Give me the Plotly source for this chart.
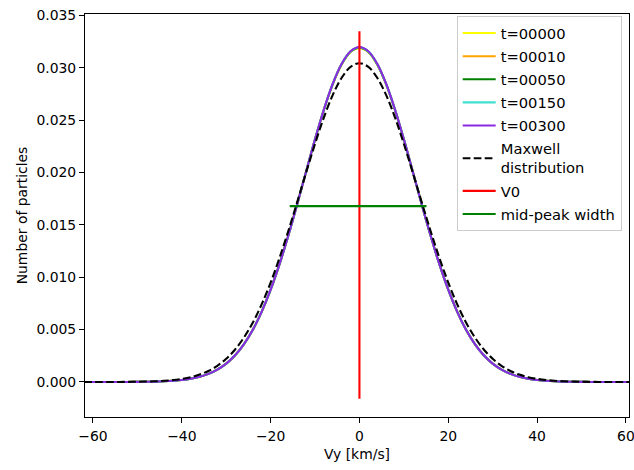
import plotly.graph_objects as go

# Velocity grid [km/s]
vy = [-62, -60, -58, -56, -54, -52, -50, -48, -46, -44, -42, -40, -38, -36, -34, -32,
      -30, -28, -26, -24, -22, -20, -18, -16, -14, -12, -10, -8, -6, -4, -2, 0,
      2, 4, 6, 8, 10, 12, 14, 16, 18, 20, 22, 24, 26, 28, 30, 32,
      34, 36, 38, 40, 42, 44, 46, 48, 50, 52, 54, 56, 58, 60, 62]

t00000 = [0, 0, 0, 0, 0, 0, 0.00001, 0.00002, 0.00003, 0.00006, 0.00011, 0.00018, 0.00030, 0.00049, 0.00077, 0.00118,
          0.00175, 0.00255, 0.00362, 0.00499, 0.00672, 0.00881, 0.01125, 0.01401, 0.01700, 0.02010, 0.02316, 0.02600, 0.02845, 0.03033, 0.03152, 0.03188,
          0.03150, 0.03030, 0.02843, 0.02600, 0.02316, 0.02010, 0.01700, 0.01401, 0.01125, 0.00881, 0.00672, 0.00499, 0.00362, 0.00255, 0.00175, 0.00118,
          0.00077, 0.00049, 0.00030, 0.00018, 0.00011, 0.00006, 0.00003, 0.00002, 0.00001, 0, 0, 0, 0, 0, 0]
t00010 = [0, 0, 0, 0, 0, 0, 0.00001, 0.00002, 0.00003, 0.00006, 0.00011, 0.00018, 0.00030, 0.00049, 0.00077, 0.00118,
          0.00175, 0.00255, 0.00362, 0.00499, 0.00672, 0.00881, 0.01125, 0.01401, 0.01700, 0.02011, 0.02317, 0.02602, 0.02847, 0.03036, 0.03155, 0.03192,
          0.03154, 0.03034, 0.02846, 0.02601, 0.02317, 0.02011, 0.01700, 0.01401, 0.01125, 0.00881, 0.00672, 0.00499, 0.00362, 0.00255, 0.00175, 0.00118,
          0.00077, 0.00049, 0.00030, 0.00018, 0.00011, 0.00006, 0.00003, 0.00002, 0.00001, 0, 0, 0, 0, 0, 0]
t00050 = [0, 0, 0, 0, 0, 0, 0.00001, 0.00002, 0.00003, 0.00006, 0.00011, 0.00018, 0.00030, 0.00049, 0.00077, 0.00118,
          0.00175, 0.00255, 0.00362, 0.00499, 0.00672, 0.00881, 0.01125, 0.01401, 0.01700, 0.02011, 0.02317, 0.02602, 0.02848, 0.03037, 0.03156, 0.03194,
          0.03156, 0.03036, 0.02847, 0.02602, 0.02317, 0.02011, 0.01700, 0.01401, 0.01125, 0.00881, 0.00672, 0.00499, 0.00362, 0.00255, 0.00175, 0.00118,
          0.00077, 0.00049, 0.00030, 0.00018, 0.00011, 0.00006, 0.00003, 0.00002, 0.00001, 0, 0, 0, 0, 0, 0]
t00150 = [0, 0, 0, 0, 0, 0, 0.00001, 0.00002, 0.00003, 0.00006, 0.00011, 0.00018, 0.00030, 0.00049, 0.00077, 0.00118,
          0.00175, 0.00255, 0.00362, 0.00499, 0.00672, 0.00881, 0.01125, 0.01401, 0.01700, 0.02011, 0.02318, 0.02603, 0.02849, 0.03039, 0.03158, 0.03198,
          0.03158, 0.03038, 0.02848, 0.02603, 0.02318, 0.02011, 0.01700, 0.01401, 0.01125, 0.00881, 0.00672, 0.00499, 0.00362, 0.00255, 0.00175, 0.00118,
          0.00077, 0.00049, 0.00030, 0.00018, 0.00011, 0.00006, 0.00003, 0.00002, 0.00001, 0, 0, 0, 0, 0, 0]
t00300 = [0, 0, 0, 0, 0, 0, 0.00001, 0.00002, 0.00003, 0.00006, 0.00011, 0.00018, 0.00030, 0.00049, 0.00077, 0.00118,
          0.00175, 0.00255, 0.00362, 0.00499, 0.00672, 0.00881, 0.01125, 0.01401, 0.01700, 0.02011, 0.02318, 0.02603, 0.02849, 0.03039, 0.03159, 0.03200,
          0.03159, 0.03039, 0.02849, 0.02603, 0.02318, 0.02011, 0.01700, 0.01401, 0.01125, 0.00881, 0.00672, 0.00499, 0.00362, 0.00255, 0.00175, 0.00118,
          0.00077, 0.00049, 0.00030, 0.00018, 0.00011, 0.00006, 0.00003, 0.00002, 0.00001, 0, 0, 0, 0, 0, 0]
maxwell = [0, 0, 0, 0, 0, 0.00001, 0.00002, 0.00004, 0.00006, 0.00011, 0.00018, 0.00029, 0.00045, 0.00070, 0.00105, 0.00154,
           0.00221, 0.00310, 0.00425, 0.00568, 0.00743, 0.00949, 0.01185, 0.01444, 0.01720, 0.02002, 0.02275, 0.02527, 0.02742, 0.02906, 0.03010, 0.03045,
           0.03010, 0.02906, 0.02742, 0.02527, 0.02275, 0.02002, 0.01720, 0.01444, 0.01185, 0.00949, 0.00743, 0.00568, 0.00425, 0.00310, 0.00221, 0.00154,
           0.00105, 0.00070, 0.00045, 0.00029, 0.00018, 0.00011, 0.00006, 0.00004, 0.00002, 0.00001, 0, 0, 0, 0, 0]

series_names = ["t=00000", "t=00010", "t=00050", "t=00150", "t=00300"]
series_values = [t00000, t00010, t00050, t00150, t00300]
series_colors = ["yellow", "orange", "green", "turquoise", "blueviolet"]

v0_x = [0.0, 0.0]
v0_y = [-0.0016, 0.0335]
width_x = [-15.7, 15.1]
width_y = [0.0168, 0.0168]

x_ticks = [-60, -40, -20, 0, 20, 40, 60]
y_ticks = [0.000, 0.005, 0.010, 0.015, 0.020, 0.025, 0.030, 0.035]

FONT = "DejaVu Sans"
FS = 13.9
LFS = 14.7

fig = go.Figure()
for i, (name, vals, col) in enumerate(zip(series_names, series_values, series_colors)):
    fig.add_trace(go.Scatter(x=vy, y=vals, mode="lines", name=name, legendgroup=f"g{i}",
                             line=dict(color=col, width=2.1, shape="spline", smoothing=1)))
fig.add_trace(go.Scatter(x=vy, y=maxwell, mode="lines", name="Maxwell<br>distribution",
                         legendgroup="g5",
                         line=dict(color="black", width=2.1, dash="7.7px,3.3px", shape="spline", smoothing=1)))
fig.add_trace(go.Scatter(x=v0_x, y=v0_y, mode="lines", name="V0", legendgroup="g6",
                         line=dict(color="red", width=2.1)))
fig.add_trace(go.Scatter(x=width_x, y=width_y, mode="lines", name="mid-peak width", legendgroup="g7",
                         line=dict(color="green", width=2.1)))

axis_common = dict(showline=True, mirror=True, linecolor="black", linewidth=1.1,
                   ticks="outside", ticklen=5, tickwidth=1.1, tickcolor="black",
                   showgrid=False, zeroline=False, automargin=False,
                   ticklabeloverflow="allow",
                   tickfont=dict(family=FONT, size=FS, color="black"))

fig.update_layout(
    width=634, height=470,
    margin=dict(l=85, r=5, t=14, b=53),
    paper_bgcolor="white", plot_bgcolor="white",
    font=dict(family=FONT, size=FS, color="black"),
    xaxis=dict(range=[-61.8, 60.7], tickvals=x_ticks, ticklabelstandoff=1,
               title=dict(text="Vy [km/s]", font=dict(family=FONT, size=FS), standoff=6),
               **axis_common),
    yaxis=dict(range=[-0.00335, 0.03515], tickvals=y_ticks, tickformat=".3f",
               title=dict(text="Number of particles", font=dict(family=FONT, size=FS), standoff=5),
               **axis_common),
    legend=dict(x=0.9866, y=0.995, xanchor="right", yanchor="top",
                bgcolor="rgba(255,255,255,0.8)", bordercolor="#cccccc", borderwidth=1,
                font=dict(family=FONT, size=LFS), tracegroupgap=1,
                itemwidth=33),
    showlegend=True,
)

fig.write_html("out.html",
               config={"displayModeBar": False},
               post_script="document.body.style.margin='0';document.body.style.overflow='hidden';")
